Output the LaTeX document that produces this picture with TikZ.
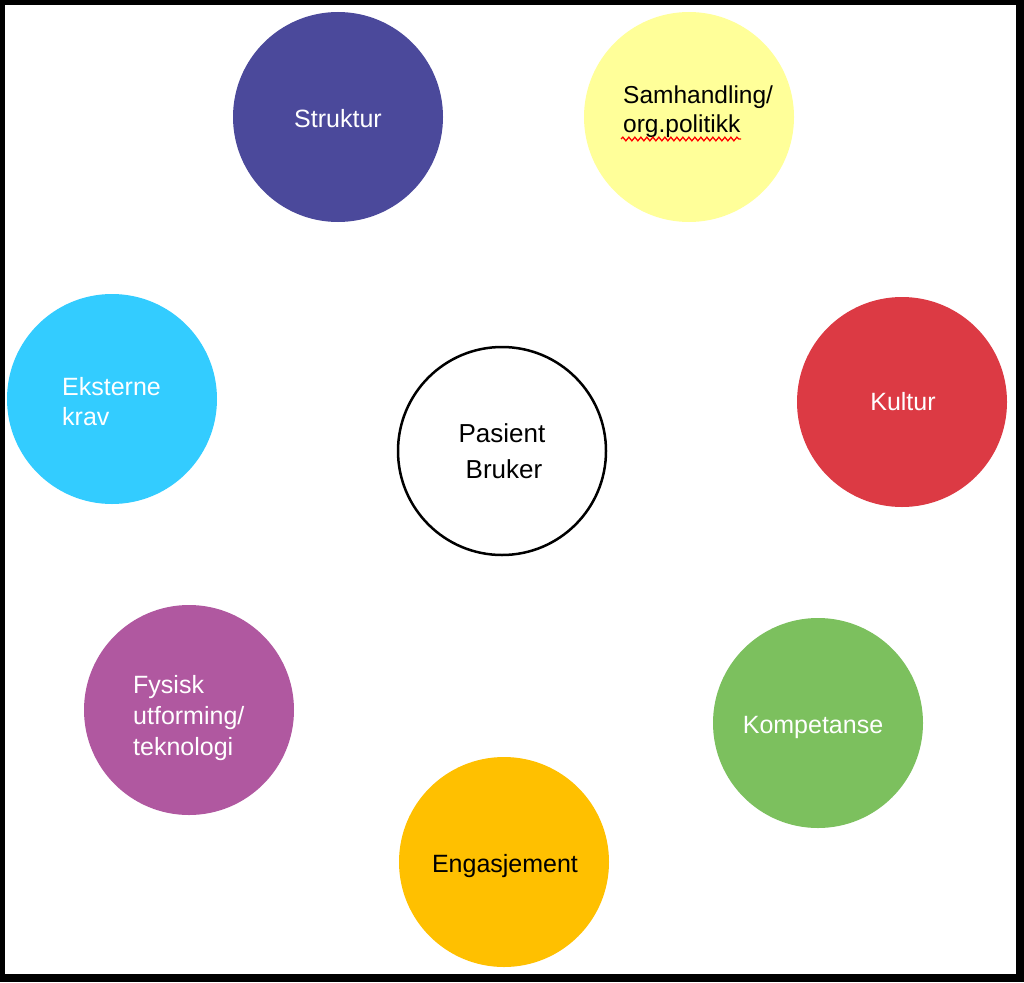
\documentclass[tikz,border=0pt]{standalone}
\usepackage{fontspec}
\setmainfont{Liberation Sans}
\usetikzlibrary{decorations.pathmorphing}
\definecolor{cStruktur}{RGB}{75,73,155}
\definecolor{cSamh}{RGB}{255,255,153}
\definecolor{cKultur}{RGB}{220,58,68}
\definecolor{cEkst}{RGB}{51,204,255}
\definecolor{cFys}{RGB}{176,88,160}
\definecolor{cKomp}{RGB}{124,192,94}
\definecolor{cEng}{RGB}{255,192,0}
\tikzset{
  ball/.style={circle, minimum size=210pt, inner sep=0pt, draw=none},
  lbl/.style={inner sep=0pt, font=\fontsize{25}{30}\selectfont},
  wlbl/.style={lbl, text=white},
  blbl/.style={lbl, text=black},
}
\begin{document}
\begin{tikzpicture}[x=1pt, y=-1pt]
\useasboundingbox (0,0) rectangle (1024,982);
\fill[black] (0,0) rectangle (1024,982);
\fill[white] (5,5) rectangle (1016,974);

\node[ball, fill=cStruktur] (struktur) at (338,117) {};
\node[ball, fill=cSamh] (samh) at (689,117) {};
\node[ball, fill=cKultur] (kultur) at (902,402) {};
\node[ball, fill=cEkst] (ekst) at (112,399) {};
\node[ball, draw=black, line width=2.5pt, fill=white, minimum size=208pt] (pasient) at (502,451) {};
\node[ball, fill=cFys] (fysisk) at (189,710) {};
\node[ball, fill=cKomp] (komp) at (818,723) {};
\node[ball, fill=cEng] (eng) at (504,862) {};

\node[wlbl, anchor=base] (tStruktur) at (338,127) {Struktur};
\node[wlbl, anchor=base] (tKultur) at (903,410) {Kultur};
\node[wlbl, anchor=base] (tKomp) at (813,733) {Kompetanse};
\node[blbl, anchor=base] (tEng) at (505,872) {Engasjement};

\node[blbl, anchor=base west, font=\fontsize{24.5}{30}\selectfont] (tSamh1) at (623,103) {Samhandling/};
\node[blbl, anchor=base west, font=\fontsize{24.5}{30}\selectfont] (tSamh2) at (623,132) {org.politikk};
\draw[red, line width=1.3pt, decorate, decoration={snake, amplitude=1.8pt, segment length=6pt}] (621,139) -- (741,139);

\node[wlbl, anchor=base west] (tEkst1) at (62,395) {Eksterne};
\node[wlbl, anchor=base west] (tEkst2) at (62,425) {krav};

\node[wlbl, anchor=base west] (tFys1) at (133,693) {Fysisk};
\node[wlbl, anchor=base west] (tFys2) at (133,724) {utforming/};
\node[wlbl, anchor=base west] (tFys3) at (133,755) {teknologi};

\node[blbl, anchor=base, font=\fontsize{26}{36}\selectfont] (tPas1) at (502,442) {Pasient};
\node[blbl, anchor=base, font=\fontsize{26}{36}\selectfont] (tPas2) at (504,478) {Bruker};
\end{tikzpicture}
\end{document}
